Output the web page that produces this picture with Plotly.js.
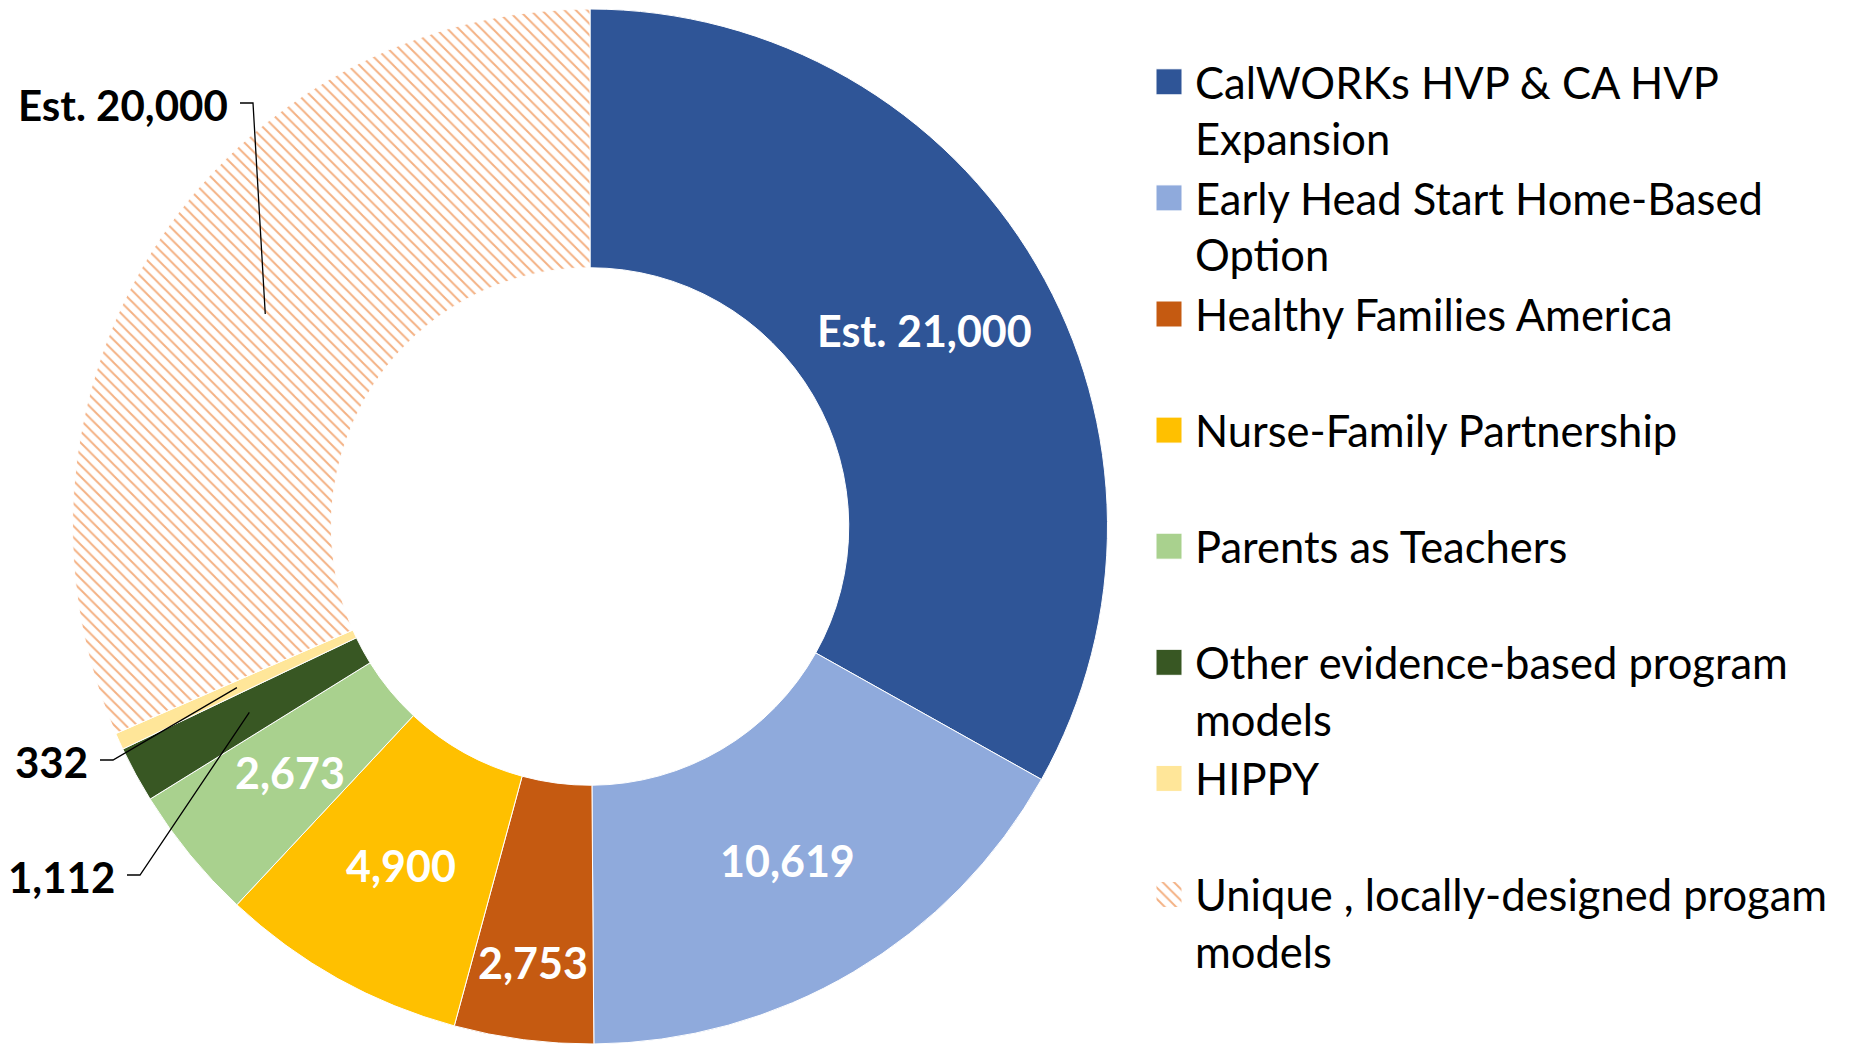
<!DOCTYPE html>
<html>
<head>
<meta charset="utf-8">
<script src="https://cdn.plot.ly/plotly-3.0.1.min.js"></script>
<style>html,body{margin:0;padding:0;background:#fff;}#chart{width:1868px;height:1045px;}</style>
</head>
<body>
<div id="chart"></div>
<script>
const W = 1868, H = 1045;

// ---- data ----
const programs = [
  'CalWORKs HVP & CA HVP<br>Expansion',
  'Early Head Start Home-Based<br>Option',
  'Healthy Families America',
  'Nurse-Family Partnership',
  'Parents as Teachers',
  'Other evidence-based program<br>models',
  'HIPPY',
  'Unique , locally-designed progam<br>models'
];
const participants = [21000, 10619, 2753, 4900, 2673, 1112, 332, 20000];
const estimated = [true, false, false, false, false, false, false, true];

// ---- styles ----
const sliceColors = ['#2F5597', '#8FAADC', '#C55A11', '#FFC000', '#A9D18E', '#385723', '#FFE699', '#F4B183'];
const slicePatterns = ['', '', '', '', '', '', '', '\\'];
const labelInside = [true, true, true, true, true, false, false, false];
const labelRadiusFrac = [0.75, 0.75, 0.85, 0.75, 0.75, 0.75, 0.75, 0.75];
// outside label text anchor (right edge, vertical middle) in px
const outsideLabelPos = {5: [117, 877], 6: [90, 762], 7: [230, 105]};

const domainX = [72 / W, 1108 / W];
const domainY = [1 - 1044 / H, 1 - 9 / H];
const hole = 0.5;

// legend labels: every entry takes two lines
const legendLabels = programs.map(p => p.includes('<br>') ? p : p + '<br> ');
const valueText = participants.map((v, i) => (estimated[i] ? 'Est. ' : '') + v.toLocaleString('en-US'));

// geometry derived from domain
const cx = (domainX[0] + domainX[1]) / 2 * W;
const cy = (1 - (domainY[0] + domainY[1]) / 2) * H;
const R = Math.min((domainX[1] - domainX[0]) * W, (domainY[1] - domainY[0]) * H) / 2;
const total = participants.reduce((a, b) => a + b, 0);

const annotations = [];
const shapes = [];
let cum = 0;
participants.forEach((v, i) => {
  const mid = (cum + v / 2) / total * 2 * Math.PI;
  cum += v;
  const font = {family: 'Lato, sans-serif', size: labelInside[i] ? 43 : 42, color: labelInside[i] ? '#FFFFFF' : '#000000', weight: 'bold'};
  if (labelInside[i]) {
    const r = R * labelRadiusFrac[i];
    const px = cx + r * Math.sin(mid), py = cy - r * Math.cos(mid);
    annotations.push({x: px / W, y: 1 - py / H, xref: 'paper', yref: 'paper', text: '<b>' + valueText[i] + '</b>',
      showarrow: false, xanchor: 'center', yanchor: 'middle', font: font});
  } else {
    const r = R * (1 + hole) / 2;
    const px = cx + r * Math.sin(mid), py = cy - r * Math.cos(mid);
    const [tx, ty] = outsideLabelPos[i];
    annotations.push({x: tx / W, y: 1 - ty / H, xref: 'paper', yref: 'paper', text: '<b>' + valueText[i] + '</b>',
      showarrow: false, xanchor: 'right', yanchor: 'middle', font: font});
    const ly = ty - 2;
    shapes.push({type: 'path', xref: 'paper', yref: 'paper', layer: 'above',
      path: `M ${(tx + 10) / W} ${1 - ly / H} L ${(tx + 23) / W} ${1 - ly / H} L ${px / W} ${1 - py / H}`,
      line: {color: '#000000', width: 1.3}});
  }
});

const trace = {
  type: 'pie',
  labels: legendLabels,
  values: participants,
  sort: false,
  direction: 'clockwise',
  rotation: 0,
  hole: hole,
  domain: {x: domainX, y: domainY},
  textinfo: 'none',
  hoverinfo: 'none',
  marker: {
    colors: sliceColors,
    line: {color: '#FFFFFF', width: 1},
    pattern: {shape: slicePatterns, size: 8, solidity: 0.24}
  }
};

const layout = {
  width: W, height: H,
  margin: {l: 0, r: 0, t: 0, b: 0},
  paper_bgcolor: '#FFFFFF',
  showlegend: true,
  legend: {
    x: 1155 / W, y: 0.955, xanchor: 'left', yanchor: 'top',
    font: {family: 'Lato, sans-serif', size: 43.5, color: '#000000'},
    valign: 'top', bgcolor: 'rgba(0,0,0,0)', borderwidth: 0, tracegroupgap: 0
  },
  annotations: annotations,
  shapes: shapes
};

Plotly.newPlot('chart', [trace], layout, {staticPlot: true}).then(() => {
  // larger legend squares (26px), pattern keeps its fine spacing
  document.querySelectorAll('.legend .legendpie').forEach(el => {
    el.setAttribute('d', 'M7,13H-19V-13H7Z');
  });
});
</script>
</body>
</html>
